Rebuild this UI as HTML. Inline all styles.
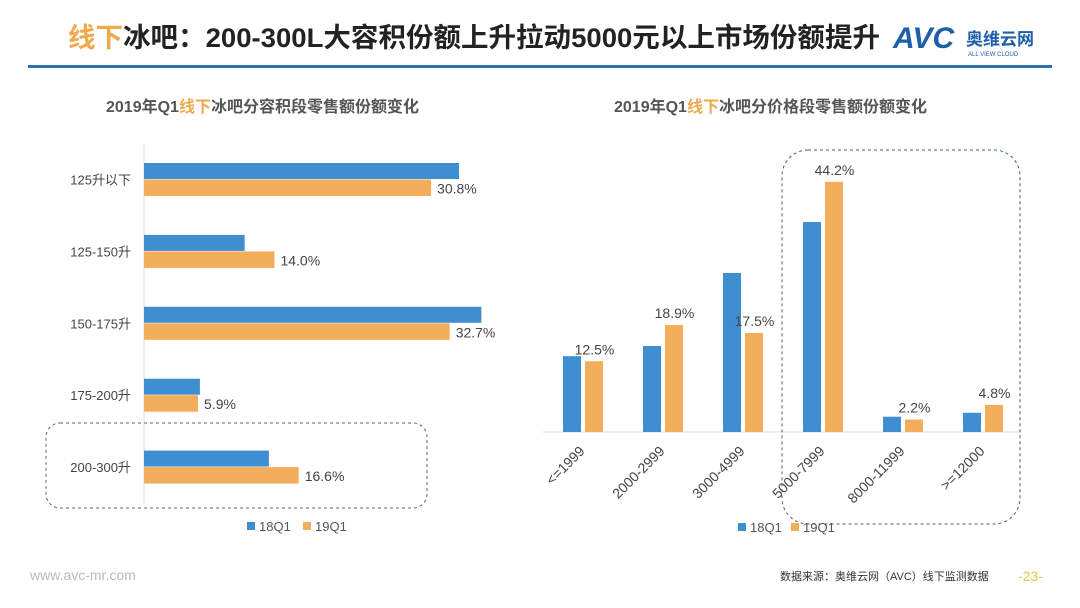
<!DOCTYPE html>
<html><head><meta charset="utf-8">
<style>
body{margin:0;width:1080px;height:608px;background:#fff;overflow:hidden;font-family:"Liberation Sans","Noto Sans CJK SC",sans-serif;}
svg{display:block}
</style></head>
<body>
<svg width="1080" height="608" viewBox="0 0 1080 608" xmlns="http://www.w3.org/2000/svg" font-family="Liberation Sans, Noto Sans CJK SC, sans-serif">
  <g>
    <text x="68" y="47" font-size="27" font-weight="bold" fill="#222" textLength="812" lengthAdjust="spacingAndGlyphs"><tspan fill="#f0a94e">线下</tspan>冰吧：200-300L大容积份额上升拉动5000元以上市场份额提升</text>
    <g>
      <text x="893" y="48" font-size="30" font-weight="bold" font-style="italic" fill="#1f5ea8">AVC</text>
      <text x="966" y="45" font-size="17" font-weight="bold" fill="#1f5ea8">奥维云网</text>
      <text x="968" y="56" font-size="6" fill="#1f5ea8">ALL VIEW CLOUD</text>
    </g>
    <rect x="28" y="65" width="1024" height="3" fill="#2f6fad"/>
  </g>
  <text x="106" y="112" font-size="16" font-weight="bold" fill="#555">2019年Q1<tspan fill="#f0a94e">线下</tspan>冰吧分容积段零售额份额变化</text>
  <text x="614" y="112" font-size="16" font-weight="bold" fill="#555">2019年Q1<tspan fill="#f0a94e">线下</tspan>冰吧分价格段零售额份额变化</text>

  <g id="left"></g>
  <g id="right"></g>

  <rect x="46" y="423" width="381" height="85" rx="14" fill="none" stroke="#666" stroke-dasharray="3,3"/>
  <rect x="782" y="150" width="238" height="374" rx="26" fill="none" stroke="#3f5f7f" stroke-dasharray="3,3"/>

  <g>
    <rect x="247" y="522" width="8" height="8" fill="#3f8fd0"/><text x="259" y="531" font-size="13" fill="#555">18Q1</text>
    <rect x="303" y="522" width="8" height="8" fill="#f3ae5c"/><text x="315" y="531" font-size="13" fill="#555">19Q1</text>
  </g>
  <g>
    <rect x="738" y="523" width="8" height="8" fill="#3f8fd0"/><text x="750" y="532" font-size="13" fill="#555">18Q1</text>
    <rect x="791" y="523" width="8" height="8" fill="#f3ae5c"/><text x="803" y="532" font-size="13" fill="#555">19Q1</text>
  </g>
  <text x="30" y="580" font-size="14" fill="#bbb">www.avc-mr.com</text>
  <text x="780" y="580" font-size="11" fill="#333">数据来源：奥维云网（AVC）线下监测数据</text>
  <text x="1018" y="581" font-size="14" fill="#e8c64a">-23-</text>
</svg>
<script>
const NS="http://www.w3.org/2000/svg";
// Left chart data
const capCats=["125升以下","125-150升","150-175升","175-200升","200-300升"];
const cap18=[33.8,10.8,36.2,6.0,13.4];
const cap19=[30.8,14.0,32.8,5.8,16.6];
const cap19Labels=["30.8%","14.0%","32.7%","5.9%","16.6%"];
// Right chart data
const priceCats=["<=1999","2000-2999","3000-4999","5000-7999","8000-11999",">=12000"];
const price18=[13.4,15.2,28.1,37.1,2.7,3.4];
const price19=[12.5,18.9,17.5,44.2,2.2,4.8];
const price19Labels=["12.5%","18.9%","17.5%","44.2%","2.2%","4.8%"];

function el(tag,attrs,parent){const e=document.createElementNS(NS,tag);for(const k in attrs)e.setAttribute(k,attrs[k]);parent.appendChild(e);return e;}
const BLUE="#3f8fd0",ORANGE="#f3ae5c";

// Left horizontal bars
const L=document.getElementById("left");
const x0=144, pxPer=9.32, yTop=179.5, rowH=71.9;
const xs=v=>x0+v*pxPer, yc=i=>yTop+i*rowH;
const axL=el("line",{x1:x0,y1:144,x2:x0,y2:503,stroke:"#ddd","stroke-width":1},L);


capCats.forEach((c,i)=>{
  const t=el("text",{x:131,y:yc(i)+5,"font-size":13,fill:"#444","text-anchor":"end"},L);t.textContent=c;
  
  
  const b=el("rect",{x:x0,y:yc(i)-16.5,width:xs(cap18[i])-x0,height:16,fill:BLUE},L);
  
  
  const o=el("rect",{x:x0,y:yc(i),width:xs(cap19[i])-x0,height:16.5,fill:ORANGE},L);
  
  
  const v=el("text",{x:xs(cap19[i])+6,y:yc(i)+14,"font-size":14,fill:"#444"},L);v.textContent=cap19Labels[i];
  
  
});

// Right vertical bars
const R=document.getElementById("right");
const base=432, pyPer=5.66, gx0=583.5, gW=80;
const ys=v=>base-v*pyPer, gx=i=>gx0+i*gW;
const axR=el("line",{x1:543,y1:base,x2:1022,y2:base,stroke:"#ddd","stroke-width":1},R);


priceCats.forEach((c,i)=>{
  const b=el("rect",{x:gx(i)-20.5,y:ys(price18[i]),width:18,height:base-ys(price18[i]),fill:BLUE},R);
  
  
  const o=el("rect",{x:gx(i)+1.5,y:ys(price19[i]),width:18,height:base-ys(price19[i]),fill:ORANGE},R);
  
  
  const v=el("text",{x:gx(i)+11,y:ys(price19[i])-7,"font-size":14,fill:"#444","text-anchor":"middle"},R);v.textContent=price19Labels[i];
  
  
  const lx=gx(i)+2, ly=452;
  const t=el("text",{x:lx,y:ly,"font-size":14,fill:"#444","text-anchor":"end",transform:`rotate(-45 ${lx} ${ly})`},R);t.textContent=c;
  
  
});
</script>
</body></html>
